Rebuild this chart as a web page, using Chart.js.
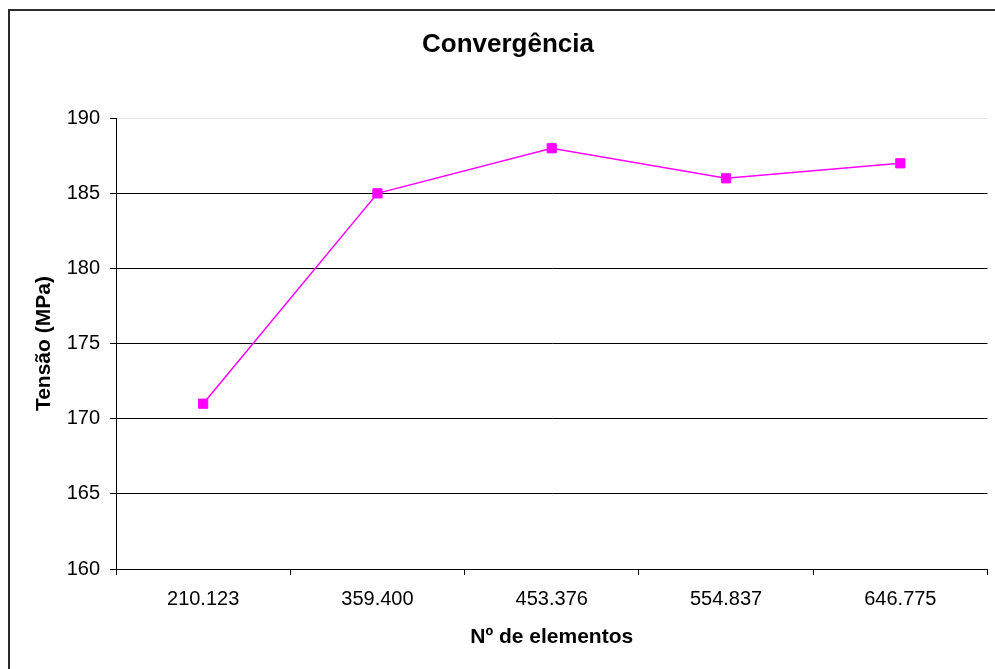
<!DOCTYPE html>
<html>
<head>
<meta charset="utf-8">
<script src="https://cdn.jsdelivr.net/npm/chart.js@4"></script>
<style>
    body { margin: 0; width: 995px; height: 669px; overflow: hidden; background: #fff; position: relative; }
    #frame { position: absolute; left: 8px; top: 9px; width: 1010px; height: 700px; border: 2px solid #2b2b2b; }
    #wrap { position: absolute; left: 0; top: 0; width: 995px; height: 669px; }
</style>
</head>
<body>
<div id="frame"></div>
<div id="wrap"><canvas id="myChart"></canvas></div>
<script>
const ctx = document.getElementById('myChart');

// dados
const categorias = ['210.123', '359.400', '453.376', '554.837', '646.775'];
const tensao = [171, 185, 188, 186, 187];
const ticksY = [160, 165, 170, 175, 180, 185, 190];

const fonte = "'Liberation Sans', Arial, sans-serif";

let config = {
    type: 'line',
    data: {
        labels: categorias,
        datasets: [{
            label: 'Tensão',
            data: tensao,
            borderColor: '#ff00ff',
            backgroundColor: '#ff00ff',
            borderWidth: 1.5,
            pointStyle: 'rect',
            pointRadius: 6.5,
            pointBorderWidth: 1,
            tension: 0
        }]
    },
    options: {
        responsive: false,
        animation: false,
        layout: {
            padding: { left: 28, right: 7, top: 0, bottom: 0 }
        },
        plugins: {
            legend: { display: false },
            tooltip: { enabled: false },
            title: {
                display: true,
                text: 'Convergência',
                color: '#000',
                font: { family: fonte, size: 26, weight: 'bold' },
                padding: { top: 29, bottom: 58 }
            }
        },
        scales: {
            x: {
                offset: true,
                grid: {
                    offset: true,
                    drawOnChartArea: false,
                    drawTicks: true,
                    tickLength: 6,
                    tickColor: '#000'
                },
                border: { color: '#000', width: 1 },
                ticks: {
                    color: '#000',
                    padding: 12,
                    maxRotation: 0,
                    font: { family: fonte, size: 20 }
                },
                title: {
                    display: true,
                    text: 'Nº de elementos',
                    color: '#000',
                    font: { family: fonte, size: 21, weight: 'bold' },
                    padding: { top: 0, bottom: 19 }
                },
                afterFit: function (scale) {
                    scale.height = 100;
                }
            },
            y: {
                min: 160,
                max: 190,
                afterBuildTicks: function (scale) {
                    scale.ticks = ticksY.map(v => ({ value: v }));
                },
                grid: {
                    color: function (c) {
                        return c.tick && c.tick.value === 190 ? '#e4e4e4' : '#000';
                    },
                    tickLength: 6,
                    tickColor: '#000'
                },
                border: { color: '#000', width: 1 },
                ticks: {
                    color: '#000',
                    padding: 10,
                    font: { family: fonte, size: 20 }
                },
                title: {
                    display: true,
                    text: 'Tensão (MPa)',
                    color: '#000',
                    font: { family: fonte, size: 21, weight: 'bold' },
                    padding: { top: 4, bottom: 0 }
                },
                afterFit: function (scale) {
                    scale.width = 88;
                }
            }
        }
    }
};

ctx.width = 995;
ctx.height = 669;
let myChart = new Chart(ctx, config);
</script>
</body>
</html>
